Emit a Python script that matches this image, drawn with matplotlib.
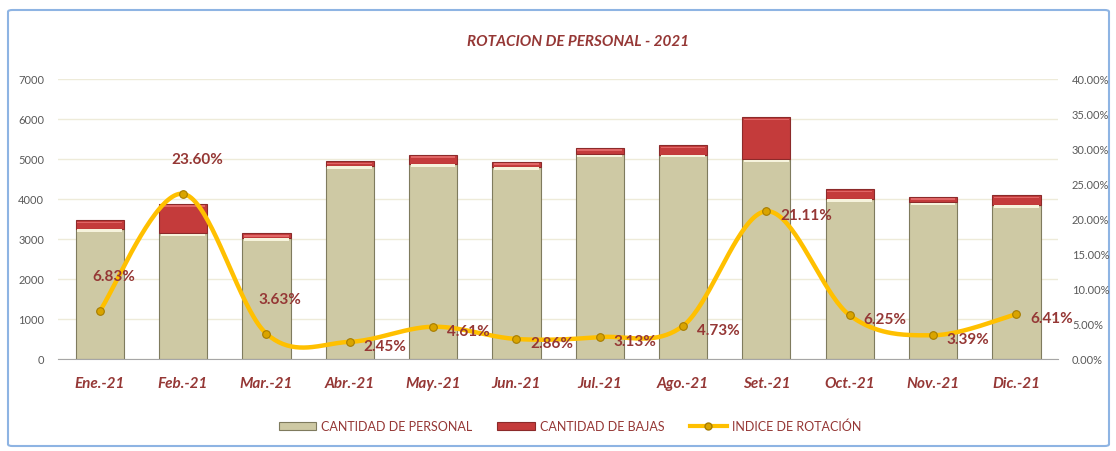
import numpy as np
import matplotlib
matplotlib.use("Agg")
import matplotlib.pyplot as plt
from matplotlib.patches import FancyBboxPatch, Patch
from matplotlib.lines import Line2D
from matplotlib.ticker import FuncFormatter

meses = ["Ene.-21", "Feb.-21", "Mar.-21", "Abr.-21", "May.-21", "Jun.-21",
         "Jul.-21", "Ago.-21", "Set.-21", "Oct.-21", "Nov.-21", "Dic.-21"]
personal = [3250, 3140, 3030, 4830, 4880, 4800, 5120, 5110, 4990, 4000, 3920, 3850]
bajas = [222, 741, 110, 118, 225, 137, 160, 242, 1053, 250, 133, 247]
rotacion = [6.83, 23.60, 3.63, 2.45, 4.61, 2.86, 3.13, 4.73, 21.11, 6.25, 3.39, 6.41]

DARK_RED = "#953735"
KHAKI = "#CEC9A4"
RED = "#C43B3B"
GOLD = "#FFC000"

plt.rcParams['font.family'] = ['Lato', 'DejaVu Sans']


def catmull_rom(xs, ys, n=40):
    xs = np.asarray(xs, float)
    ys = np.asarray(ys, float)
    px = np.concatenate([[xs[0]], xs, [xs[-1]]])
    py = np.concatenate([[ys[0]], ys, [ys[-1]]])
    out_x, out_y = [], []
    t = np.linspace(0, 1, n, endpoint=False)
    for i in range(1, len(px) - 2):
        for arr, out in ((px, out_x), (py, out_y)):
            p0, p1, p2, p3 = arr[i - 1], arr[i], arr[i + 1], arr[i + 2]
            out.extend(0.5 * (2 * p1 + (-p0 + p2) * t
                              + (2 * p0 - 5 * p1 + 4 * p2 - p3) * t ** 2
                              + (-p0 + 3 * p1 - 3 * p2 + p3) * t ** 3))
    out_x.append(xs[-1])
    out_y.append(ys[-1])
    return np.array(out_x), np.array(out_y)


fig = plt.figure(figsize=(11.16, 4.52), dpi=100)
fig.patch.set_facecolor("white")

# chart border
border = FancyBboxPatch((8 / 1116, 5 / 452), 1101 / 1116, 436 / 452,
                        boxstyle="round,pad=0,rounding_size=0.004",
                        transform=fig.transFigure, facecolor="none",
                        edgecolor="#8EB4E3", linewidth=1.5, zorder=-1)
fig.patches.append(border)

ax = fig.add_axes([58 / 1116, 92 / 452, 1000 / 1116, 280 / 452])
ax.set_facecolor("none")
x = np.arange(len(meses))
w = 0.58
total = np.array(personal) + np.array(bajas)

ax.bar(x, personal, width=w, color=KHAKI, edgecolor="#7F7B5E", linewidth=0.8, zorder=2)
# light bevel at the top of each segment
ax.bar(x, 60, bottom=np.array(personal) - 70, width=w * 0.92,
       color="#F6F3DC", linewidth=0, zorder=3)
ax.bar(x, bajas, bottom=personal, width=w, color=RED, edgecolor="#8C2A2A", linewidth=0.8, zorder=2)
ax.bar(x, 40, bottom=total - 80, width=w * 0.92,
       color="#E06666", linewidth=0, zorder=3)

ax.set_xlim(-0.5, len(meses) - 0.5)
ax.set_ylim(0, 7000)
ax.set_yticks(range(0, 7001, 1000))
ax.grid(axis="y", color="#EEEBD9", linewidth=1, zorder=0)
ax.set_axisbelow(True)
for s in ["top", "right", "left"]:
    ax.spines[s].set_visible(False)
ax.spines["bottom"].set_color("#A6A6A6")
ax.tick_params(axis="y", length=0, pad=10, labelsize=8, labelcolor="#595959")
ax.tick_params(axis="x", length=0, pad=12)
ax.set_xticks(x)
ax.set_xticklabels(meses, fontsize=11, fontstyle="italic", fontweight="bold", color=DARK_RED)

ax2 = ax.twinx()
ax2.set_ylim(0, 40)
ax2.set_yticks(range(0, 41, 5))
ax2.yaxis.set_major_formatter(FuncFormatter(lambda v, p: f"{v:.2f}%"))
ax2.tick_params(axis="y", length=0, pad=10, labelsize=8, labelcolor="#595959")
for s in ax2.spines.values():
    s.set_visible(False)

sx, sy = catmull_rom(x, rotacion)
ax2.plot(sx, sy, color=GOLD, linewidth=3.2, solid_capstyle="round", zorder=4)
ax2.plot(x, rotacion, linestyle="none", marker="o", markersize=5.5,
         markerfacecolor="#D9A400", markeredgecolor="#A67C00", markeredgewidth=0.8, zorder=5)

for i, v in enumerate(rotacion):
    if i < 3:
        off, ha, va = (10, 25), "center", "center"
    else:
        off, ha, va = (10, -3), "left", "center"
    ax2.annotate(f"{v:.2f}%", (x[i], v), xytext=off, textcoords="offset points",
                 ha=ha, va=va, fontsize=11, fontweight="bold", color=DARK_RED, zorder=6)

fig.text(578 / 1116, 1 - 42 / 452, "ROTACION DE PERSONAL - 2021", ha="center", va="center",
         fontsize=11, fontstyle="italic", fontweight="bold", color=DARK_RED)

handles = [Patch(facecolor=KHAKI, edgecolor="#7F7B5E", linewidth=0.8),
           Patch(facecolor=RED, edgecolor="#8C2A2A", linewidth=0.8),
           Line2D([0], [0], color=GOLD, linewidth=3, marker="o", markersize=5,
                  markerfacecolor="#D9A400", markeredgecolor="#A67C00")]
labels = ["CANTIDAD DE PERSONAL", "CANTIDAD DE BAJAS", "INDICE DE ROTACIÓN"]
leg = fig.legend(handles, labels, loc="center", bbox_to_anchor=(570 / 1116, 1 - 427 / 452),
                 ncol=3, frameon=False, fontsize=9, handlelength=3, handleheight=0.6,
                 columnspacing=2.0, handletextpad=0.4)
for t in leg.get_texts():
    t.set_color(DARK_RED)

fig.savefig("out.png", dpi=100)
